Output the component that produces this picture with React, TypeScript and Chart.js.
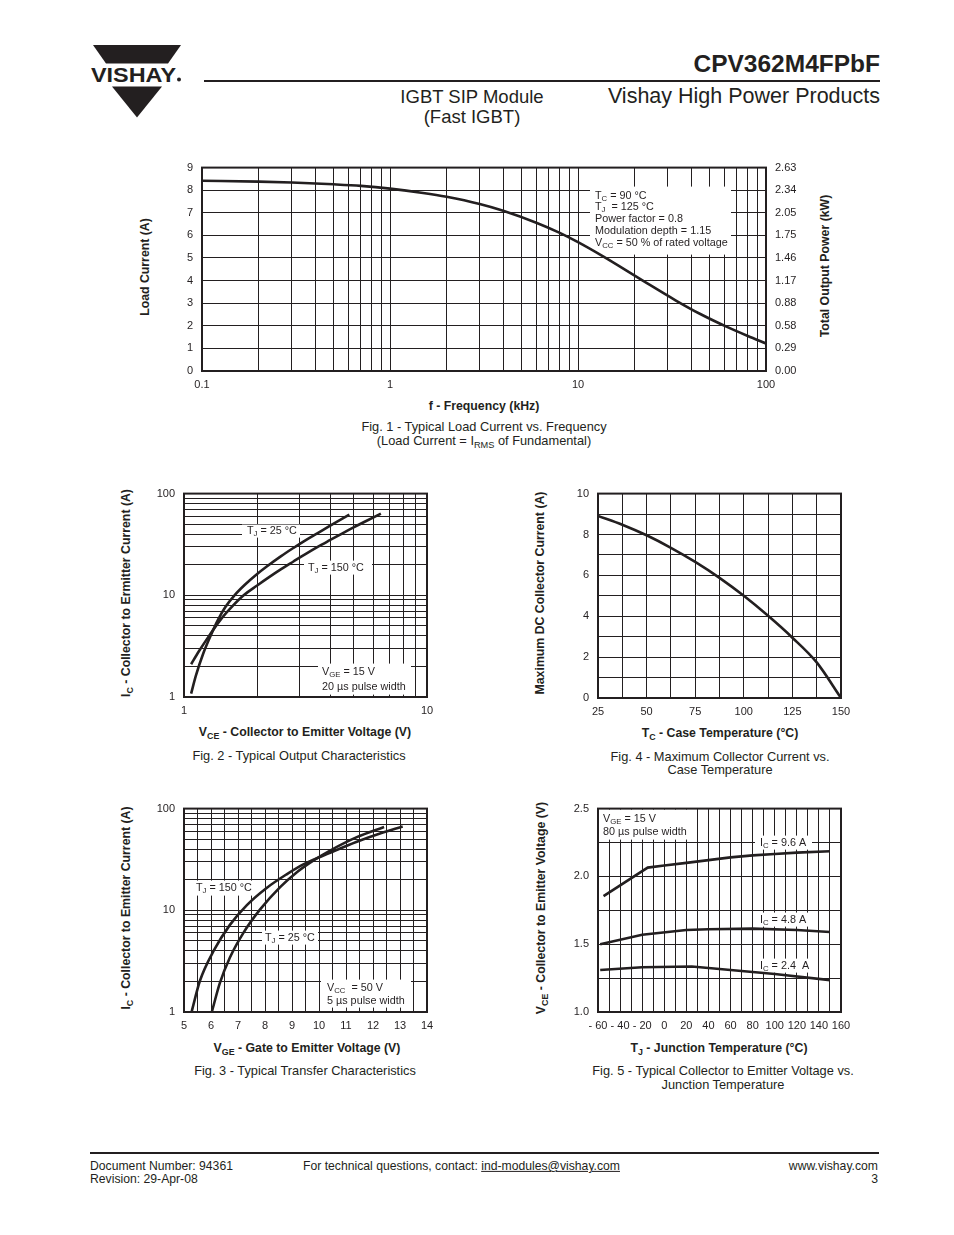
import React, { useEffect, useRef } from "react";
import { Chart, registerables } from "chart.js";

Chart.register(...registerables);

const FONT = '"Liberation Sans", Arial, Helvetica, sans-serif';
const INK = "#231f20";

// ---------------- data ----------------
// Fig. 1 - load current vs frequency
const fig1Freq = [0.1, 0.2, 0.3, 0.5, 0.7, 1, 1.5, 2, 3, 4, 6, 8, 10, 13.6, 22, 33, 45, 62, 80, 100];
const fig1Load = [8.42, 8.38, 8.34, 8.26, 8.19, 8.07, 7.88, 7.71, 7.39, 7.09, 6.56, 6.11, 5.7, 5.07, 4.01, 3.13, 2.51, 1.95, 1.55, 1.22];
const fig1PowerLabels = ["0.00", "0.29", "0.58", "0.88", "1.17", "1.46", "1.75", "2.05", "2.34", "2.63"];

// Fig. 2 - output characteristics
const fig2Vce25 = [1.07, 1.12, 1.2, 1.29, 1.38, 1.48, 1.62, 1.78, 2.0, 2.19, 2.51, 2.82, 3.16, 3.55, 3.98, 4.79];
const fig2Ic25 = [1.08, 1.63, 2.68, 4.06, 5.73, 7.66, 10.1, 12.7, 16.2, 19.2, 24.3, 29.2, 34.7, 40.9, 48.1, 62.2];
const fig2Vce150 = [1.07, 1.15, 1.26, 1.41, 1.59, 1.76, 2.0, 2.24, 2.51, 2.82, 3.16, 3.55, 3.98, 4.47, 5.01, 5.62, 6.46];
const fig2Ic150 = [2.1, 2.8, 3.9, 5.7, 7.9, 10, 12.5, 15.1, 18.1, 21.5, 25.4, 29.9, 34.8, 40.5, 46.8, 53.8, 63.5];

// Fig. 3 - transfer characteristics
const fig3Vge150 = [5.28, 5.59, 6.09, 6.7, 7.32, 8.06, 8.8, 9.42, 10.41, 11.4, 12.26, 13.1];
const fig3Ic150 = [1, 2.03, 3.96, 7.19, 11.2, 16.6, 22.6, 28.3, 36.8, 47.3, 57.0, 66.7];
const fig3Vge25 = [6.03, 6.33, 6.7, 7.2, 7.82, 8.56, 9.18, 9.8, 10.41, 11.4, 12.41];
const fig3Ic25 = [1, 1.93, 3.43, 6.0, 10.2, 16.9, 23.7, 31.0, 38.7, 52.4, 66.0];

// Fig. 4 - max DC collector current vs case temperature
const fig4Tc = [25, 37.5, 50, 62.5, 75, 87.5, 100, 112.5, 125, 137.5, 150];
const fig4Ic = [8.91, 8.48, 7.96, 7.35, 6.66, 5.88, 5.0, 4.02, 2.95, 1.74, 0];

// Fig. 5 - VCE vs junction temperature
const fig5Tj96 = [-55, -15, 0, 20, 40, 60, 80, 100, 120, 150];
const fig5Vce96 = [1.855, 2.065, 2.08, 2.1, 2.12, 2.14, 2.155, 2.165, 2.175, 2.185];
const fig5Tj48 = [-58, -20, 20, 40, 80, 120, 150];
const fig5Vce48 = [1.5, 1.57, 1.605, 1.61, 1.615, 1.605, 1.59];
const fig5Tj24 = [-58, -20, 25, 60, 100, 150];
const fig5Vce24 = [1.31, 1.33, 1.335, 1.31, 1.28, 1.235];

// ---------------- tick helpers ----------------
function logGrid(minExp: number, maxExp: number): number[] {
  const out: number[] = [];
  for (let e = minExp; e < maxExp; e++) {
    for (let s = 1; s < 10; s++) out.push(+(s * Math.pow(10, e)).toPrecision(6));
  }
  out.push(Math.pow(10, maxExp));
  return out;
}
function stepGrid(min: number, max: number, step: number): number[] {
  const out: number[] = [];
  const n = Math.round((max - min) / step);
  for (let i = 0; i <= n; i++) out.push(+(min + i * step).toFixed(6));
  return out;
}
const isDecade = (v: number) => Math.abs(Math.log10(v) - Math.round(Math.log10(v))) < 1e-6;
const decadeLabel = (v: number) => (isDecade(v) ? String(+v.toPrecision(6)) : "");

// ---------------- chart plumbing ----------------
type Seg = { t: string; sub?: boolean };
type NoteLine = { x: number; y: number; segs: Seg[] };
type Note = { box: [number, number, number, number]; lines: NoteLine[] };
type Rect = { l: number; t: number; r: number; b: number };
type Pad = { l: number; r: number; t: number; b: number };
type AxisSpec = {
  type: "linear" | "logarithmic";
  min: number;
  max: number;
  ticks: number[];
  label: (v: number, i: number) => string;
  grid?: boolean;
};
type Series = { xs: number[]; ys: number[] };

const NOTE_SIZE = 10.8;

function scaleCfg(spec: AxisSpec, pos: "left" | "right" | "bottom", size: number, padding: number) {
  return {
    type: spec.type,
    position: pos,
    min: spec.min,
    max: spec.max,
    afterBuildTicks: (s: any) => {
      s.ticks = spec.ticks.map((v) => ({ value: v }));
    },
    afterFit: (s: any) => {
      if (pos === "bottom") s.height = size;
      else s.width = size;
    },
    ticks: {
      autoSkip: false,
      maxRotation: 0,
      minRotation: 0,
      padding,
      color: INK,
      font: { family: FONT, size: 11 },
      callback: (v: any, i: number) => spec.label(Number(v), i),
    },
    grid: { display: spec.grid !== false, color: INK, lineWidth: 1, drawTicks: false },
    border: { display: false },
  };
}

function PlotCanvas(props: {
  plot: Rect;
  pad: Pad;
  x: AxisSpec;
  y: AxisSpec;
  y2?: AxisSpec;
  series: Series[];
  notes: Note[];
  smooth: boolean;
}) {
  const { plot, pad } = props;
  const ref = useRef<HTMLCanvasElement>(null);
  const w = plot.r - plot.l + pad.l + pad.r;
  const h = plot.b - plot.t + pad.t + pad.b;

  useEffect(() => {
    const { x, y, y2, series, notes, smooth } = props;
    const scales: any = {
      x: scaleCfg(x, "bottom", pad.b, 7),
      y: scaleCfg(y, "left", pad.l, 9),
    };
    if (y2) scales.y2 = scaleCfg(y2, "right", pad.r, 9);

    const framePlugin = {
      id: "frameNotes",
      beforeDatasetsDraw(chart: any) {
        const { ctx, chartArea: a } = chart;
        const ox = a.left - plot.l;
        const oy = a.top - plot.t;
        ctx.save();
        for (const n of notes) {
          const [x1, y1, x2, y2b] = n.box;
          ctx.fillStyle = "#ffffff";
          ctx.fillRect(x1 + ox, y1 + oy, x2 - x1, y2b - y1);
          ctx.fillStyle = INK;
          ctx.textBaseline = "middle";
          ctx.textAlign = "left";
          for (const ln of n.lines) {
            let cx = ln.x + ox;
            const cy = ln.y + oy;
            for (const sg of ln.segs) {
              const fs = sg.sub ? NOTE_SIZE * 0.72 : NOTE_SIZE;
              ctx.font = `${fs}px ${FONT}`;
              ctx.fillText(sg.t, cx, sg.sub ? cy + 3 : cy);
              cx += ctx.measureText(sg.t).width;
            }
          }
        }
        ctx.strokeStyle = INK;
        ctx.lineWidth = 2;
        ctx.strokeRect(a.left, a.top, a.right - a.left, a.bottom - a.top);
        ctx.restore();
      },
    };

    const chart = new Chart(ref.current as HTMLCanvasElement, {
      type: "line",
      data: {
        datasets: series.map((s) => ({
          data: s.xs.map((xv, i) => ({ x: xv, y: s.ys[i] })),
          borderColor: INK,
          borderWidth: 2.6,
          pointRadius: 0,
          fill: false,
          cubicInterpolationMode: smooth ? "monotone" : "default",
          tension: 0,
          xAxisID: "x",
          yAxisID: "y",
        })),
      },
      options: {
        responsive: false,
        animation: false,
        devicePixelRatio: 1,
        layout: { padding: { top: pad.t, right: y2 ? 0 : pad.r, bottom: 0, left: 0 } },
        plugins: { legend: { display: false }, tooltip: { enabled: false } },
        scales,
      },
      plugins: [framePlugin],
    } as any);
    return () => chart.destroy();
  }, []);

  return (
    <canvas
      ref={ref}
      width={w}
      height={h}
      style={{ position: "absolute", left: plot.l - pad.l, top: plot.t - pad.t, width: w, height: h }}
    />
  );
}

// ---------------- text helpers ----------------
function T(props: {
  x: number;
  y: number;
  size?: number;
  bold?: boolean;
  align?: "left" | "center" | "right";
  rotate?: boolean;
  children: React.ReactNode;
}) {
  const { x, y, size = 12.8, bold = false, align = "center", rotate = false } = props;
  const tx = align === "center" ? "-50%" : align === "right" ? "-100%" : "0";
  return (
    <div
      style={{
        position: "absolute",
        left: x,
        top: y,
        fontSize: size,
        fontWeight: bold ? 700 : 400,
        lineHeight: 1,
        whiteSpace: "nowrap",
        transform: rotate ? "translate(-50%,-50%) rotate(-90deg)" : `translate(${tx},-50%)`,
      }}
    >
      {props.children}
    </div>
  );
}
const Sub = (p: { children: React.ReactNode }) => (
  <span style={{ fontSize: "0.72em", position: "relative", top: "0.3em" }}>{p.children}</span>
);

// ---------------- layout ----------------
const fig1Plot: Rect = { l: 202, t: 164, r: 766, b: 371 };
const fig2Plot: Rect = { l: 184, t: 490, r: 427, b: 697 };
const fig4Plot: Rect = { l: 598, t: 490, r: 841, b: 698 };
const fig3Plot: Rect = { l: 184, t: 805, r: 427, b: 1012 };
const fig5Plot: Rect = { l: 598, t: 805, r: 841, b: 1012 };
const basePad: Pad = { l: 45, r: 20, t: 12, b: 22 };
const fig1Pad: Pad = { l: 45, r: 50, t: 12, b: 22 };

const TJ = (rest: string): Seg[] => [{ t: "T" }, { t: "J", sub: true }, { t: rest }];
const IC = (rest: string): Seg[] => [{ t: "I" }, { t: "C", sub: true }, { t: rest }];

const fig1Notes: Note[] = [
  {
    box: [590, 183, 731, 251],
    lines: [
      { x: 595, y: 192, segs: [{ t: "T" }, { t: "C", sub: true }, { t: " = 90 °C" }] },
      { x: 595, y: 203.5, segs: TJ("  = 125 °C") },
      { x: 595, y: 215.5, segs: [{ t: "Power factor = 0.8" }] },
      { x: 595, y: 227, segs: [{ t: "Modulation depth = 1.15" }] },
      { x: 595, y: 239, segs: [{ t: "V" }, { t: "CC", sub: true }, { t: " = 50 % of rated voltage" }] },
    ],
  },
];
const fig2Notes: Note[] = [
  { box: [242, 521, 300, 534], lines: [{ x: 247, y: 527.5, segs: TJ(" = 25 °C") }] },
  { box: [304, 557, 372, 571], lines: [{ x: 308, y: 564.5, segs: TJ(" = 150 °C") }] },
  {
    box: [318, 660, 411, 691],
    lines: [
      { x: 322, y: 668, segs: [{ t: "V" }, { t: "GE", sub: true }, { t: " = 15 V" }] },
      { x: 322, y: 683, segs: [{ t: "20 µs pulse width" }] },
    ],
  },
];
const fig3Notes: Note[] = [
  { box: [193, 877, 252, 892], lines: [{ x: 196, y: 884.5, segs: TJ(" = 150 °C") }] },
  { box: [262, 927, 318, 941], lines: [{ x: 265, y: 934, segs: TJ(" = 25 °C") }] },
  {
    box: [321, 976, 411, 1004],
    lines: [
      { x: 327, y: 984, segs: [{ t: "V" }, { t: "CC", sub: true }, { t: "  = 50 V" }] },
      { x: 327, y: 997, segs: [{ t: "5 µs pulse width" }] },
    ],
  },
];
const fig5Notes: Note[] = [
  {
    box: [598, 806, 690, 836],
    lines: [
      { x: 603, y: 815, segs: [{ t: "V" }, { t: "GE", sub: true }, { t: " = 15 V" }] },
      { x: 603, y: 828, segs: [{ t: "80 µs pulse width" }] },
    ],
  },
  { box: [755, 832, 812, 846], lines: [{ x: 760, y: 839, segs: IC(" = 9.6 A") }] },
  { box: [755, 909, 811, 923], lines: [{ x: 760, y: 916, segs: IC(" = 4.8 A") }] },
  { box: [755, 955, 813, 969], lines: [{ x: 760, y: 962, segs: IC(" = 2.4  A") }] },
];

export default function App() {
  return (
    <div
      style={{
        position: "absolute",
        left: 0,
        top: 0,
        width: 954,
        height: 1235,
        background: "#ffffff",
        color: INK,
        fontFamily: FONT,
        overflow: "hidden",
      }}
    >
      {/* header */}
      <svg style={{ position: "absolute", left: 0, top: 0 }} width={200} height={130}>
        <polygon points="93,45 181,45 168,63.5 106,63.5" fill={INK} />
        <text
          x={91}
          y={81.7}
          fontFamily={FONT}
          fontWeight={700}
          fontSize={20.5}
          textLength={85}
          lengthAdjust="spacingAndGlyphs"
          fill={INK}
        >
          VISHAY
        </text>
        <circle cx={179} cy={79.5} r={2} fill={INK} />
        <polygon points="112,86.5 162,86.5 137,117.5" fill={INK} />
      </svg>
      <div style={{ position: "absolute", left: 204, top: 80, width: 676, height: 2, background: INK }} />
      <T x={880} y={64} size={24.5} bold align="right">CPV362M4FPbF</T>
      <T x={880} y={97} size={21.5} align="right">Vishay High Power Products</T>
      <T x={472} y={97} size={18.5}>IGBT SIP Module</T>
      <T x={472} y={117} size={18.5}>(Fast IGBT)</T>

      {/* Fig. 1 */}
      <PlotCanvas
        plot={fig1Plot}
        pad={fig1Pad}
        smooth
        x={{ type: "logarithmic", min: 0.1, max: 100, ticks: logGrid(-1, 2), label: decadeLabel }}
        y={{ type: "linear", min: 0, max: 9, ticks: stepGrid(0, 9, 1), label: (v) => String(v) }}
        y2={{ type: "linear", min: 0, max: 9, ticks: stepGrid(0, 9, 1), label: (_v, i) => fig1PowerLabels[i] ?? "", grid: false }}
        series={[{ xs: fig1Freq, ys: fig1Load }]}
        notes={fig1Notes}
      />
      <T x={145} y={267} size={12.3} bold rotate>Load Current (A)</T>
      <T x={825} y={266} size={12.3} bold rotate>Total Output Power (kW)</T>
      <T x={484} y={406} size={12.3} bold>f - Frequency (kHz)</T>
      <T x={484} y={427}>Fig. 1 - Typical Load Current vs. Frequency</T>
      <T x={484} y={441}>
        (Load Current = I<Sub>RMS</Sub> of Fundamental)
      </T>

      {/* Fig. 2 */}
      <PlotCanvas
        plot={fig2Plot}
        pad={basePad}
        smooth
        x={{ type: "logarithmic", min: 1, max: 10, ticks: logGrid(0, 1), label: decadeLabel }}
        y={{ type: "logarithmic", min: 1, max: 100, ticks: logGrid(0, 2), label: decadeLabel }}
        series={[
          { xs: fig2Vce25, ys: fig2Ic25 },
          { xs: fig2Vce150, ys: fig2Ic150 },
        ]}
        notes={fig2Notes}
      />
      <T x={126} y={593} size={12.3} bold rotate>
        I<Sub>C</Sub> - Collector to Ermitter Current (A)
      </T>
      <T x={305} y={732} size={12.3} bold>
        V<Sub>CE</Sub> - Collector to Emitter Voltage (V)
      </T>
      <T x={299} y={756}>Fig. 2 - Typical Output Characteristics</T>

      {/* Fig. 4 */}
      <PlotCanvas
        plot={fig4Plot}
        pad={basePad}
        smooth
        x={{ type: "linear", min: 25, max: 150, ticks: stepGrid(25, 150, 12.5), label: (v) => (v % 25 === 0 ? String(v) : "") }}
        y={{ type: "linear", min: 0, max: 10, ticks: stepGrid(0, 10, 1), label: (v) => (v % 2 === 0 ? String(v) : "") }}
        series={[{ xs: fig4Tc, ys: fig4Ic }]}
        notes={[]}
      />
      <T x={540} y={593} size={12.3} bold rotate>Maximum DC Collector Current (A)</T>
      <T x={720} y={733} size={12.3} bold>
        T<Sub>C</Sub> - Case Temperature (°C)
      </T>
      <T x={720} y={757}>Fig. 4 - Maximum Collector Current vs.</T>
      <T x={720} y={770}>Case Temperature</T>

      {/* Fig. 3 */}
      <PlotCanvas
        plot={fig3Plot}
        pad={basePad}
        smooth
        x={{ type: "linear", min: 5, max: 14, ticks: stepGrid(5, 14, 0.5), label: (v) => (Number.isInteger(v) ? String(v) : "") }}
        y={{ type: "logarithmic", min: 1, max: 100, ticks: logGrid(0, 2), label: decadeLabel }}
        series={[
          { xs: fig3Vge150, ys: fig3Ic150 },
          { xs: fig3Vge25, ys: fig3Ic25 },
        ]}
        notes={fig3Notes}
      />
      <T x={126} y={908} size={12.3} bold rotate>
        I<Sub>C</Sub> - Collector to Emitter Current (A)
      </T>
      <T x={307} y={1048} size={12.3} bold>
        V<Sub>GE</Sub> - Gate to Emitter Voltage (V)
      </T>
      <T x={305} y={1071}>Fig. 3 - Typical Transfer Characteristics</T>

      {/* Fig. 5 */}
      <PlotCanvas
        plot={fig5Plot}
        pad={basePad}
        smooth={false}
        x={{
          type: "linear",
          min: -60,
          max: 160,
          ticks: stepGrid(-60, 160, 10),
          label: (v) => (v % 20 === 0 ? (v < 0 ? `- ${-v}` : String(v)) : ""),
        }}
        y={{
          type: "linear",
          min: 1,
          max: 2.5,
          ticks: stepGrid(1, 2.5, 0.25),
          label: (v) => (Number.isInteger(v * 2) ? v.toFixed(1) : ""),
        }}
        series={[
          { xs: fig5Tj96, ys: fig5Vce96 },
          { xs: fig5Tj48, ys: fig5Vce48 },
          { xs: fig5Tj24, ys: fig5Vce24 },
        ]}
        notes={fig5Notes}
      />
      <T x={541} y={908} size={12.3} bold rotate>
        V<Sub>CE</Sub> - Collector to Emitter Voltage (V)
      </T>
      <T x={719} y={1048} size={12.3} bold>
        T<Sub>J</Sub> - Junction Temperature (°C)
      </T>
      <T x={723} y={1071}>Fig. 5 - Typical Collector to Emitter Voltage vs.</T>
      <T x={723} y={1085}>Junction Temperature</T>

      {/* footer */}
      <div style={{ position: "absolute", left: 90, top: 1152, width: 789, height: 2, background: INK }} />
      <T x={90} y={1166} size={12.2} align="left">Document Number: 94361</T>
      <T x={90} y={1179} size={12.2} align="left">Revision: 29-Apr-08</T>
      <T x={303} y={1166} size={12.2} align="left">
        For technical questions, contact: <span style={{ textDecoration: "underline" }}>ind-modules@vishay.com</span>
      </T>
      <T x={878} y={1166} size={12.2} align="right">www.vishay.com</T>
      <T x={878} y={1179} size={12.2} align="right">3</T>
    </div>
  );
}
